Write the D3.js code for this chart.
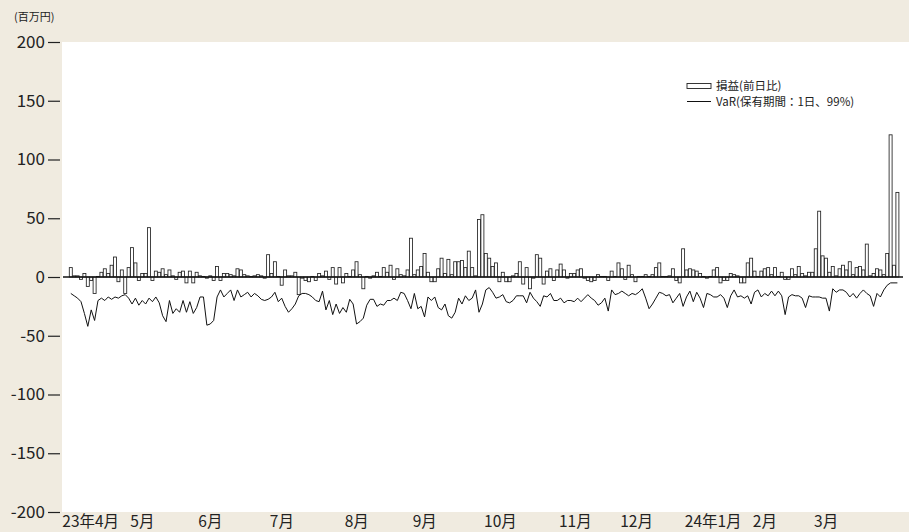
<!DOCTYPE html>
<html>
<head>
<meta charset="utf-8">
<title>損益とVaR</title>
<script src="https://cdn.jsdelivr.net/npm/d3@7"></script>
<style>
  html, body { margin: 0; padding: 0; background: #f0ebe0; }
  svg { display: block; font-family: "Noto Sans CJK JP", "Noto Sans", sans-serif; }
</style>
</head>
<body>
<div id="chart"></div>
<script>
// daily P&L (vs previous day), million yen — FY2023 business days
var pnl0 = [8,1,1,-2,3,-8,-3,-14,0.5,4, 7,3,10,17,-4,6,-14,8,25,12,
            -3,3,3,42,-3,5,4,7,2,6, 1,-2,4,5,-5,5,-5,4,1,0.5,
            -1,1,-3,9,-3,3,3,2,1,7, 6,2,1,0.5,1,2];
var pnl1 = [1,-1,19,3,13,0.5,-7,6,1,1, 4,-15,-1,-3,-4,0.5,-3,3,1,5,
            -2,8,-6,8,-5,3,0.5,6,13,2, -10,0.5,-1,1,4,0.5,8,4,10,-2,
            7,2,1,6,33,2,6,9,20,4, -4,-4,7,16,3,15,2,13,13];
var pnl2 = [14,8,22,8,1,49,53,20,16,9, 12,-4,4,-4,-4,1,3,13,-6,8,
            -10,-1,19,16,-6,5,7,-3,6,11, 6,-1,3,3,6,7,-1,-3,-4,-3,
            2,0.5,0.5,-3,5,0.5,12,7,-2,10, 2,-4,0.5,0.5,2,0.5,2,8];
var pnl3 = [12,0.5,0.5,1,7,-3,-5,24,6,7, 6,5,3,0.5,-1,0.5,6,8,-5,-3,
            -3,3,2,1,-5,-5,12,16,5,0.5, 5,7,8,2,8,0.5,4,-2,-2,7,
            2,9,3,1,4,4,24,56,18,16, 4,9,1,7,10,6,13,2,8,9,
            6,28,1,3,7,6,2,20,121,10, 72];

// VaR (holding period 1 day, 99%), shown as negative
var var0 = [-14,-16,-18,-21,-31,-42,-28,-37,-20,-18, -20,-17,-19,-17,-18,-16,-15,-18,-23,-18,
            -24,-20,-23,-18,-21,-17,-22,-33,-38,-20, -31,-27,-30,-20,-30,-21,-31,-26,-17,-17,
            -41,-40,-37,-17,-11,-17,-14,-11,-20,-11, -17,-15,-13,-17,-14,-16];
var var1 = [-19,-20,-19,-17,-13,-21,-18,-25,-30,-27, -23,-16,-14,-14,-15,-17,-20,-21,-12,-28,
            -20,-32,-23,-31,-26,-30,-19,-23,-40,-38, -35,-24,-19,-19,-25,-23,-24,-20,-20,-18,
            -20,-13,-14,-20,-27,-14,-27,-25,-34,-17, -20,-17,-26,-28,-23,-33,-35,-30,-18];
var var2 = [-23,-16,-20,-18,-11,-30,-23,-11,-9,-13, -18,-17,-15,-21,-22,-20,-16,-16,-16,-22,
            -13,-18,-21,-25,-16,-17,-14,-20,-20,-18, -22,-20,-20,-21,-18,-21,-18,-15,-18,-20,
            -24,-22,-18,-29,-11,-15,-14,-12,-14,-16, -14,-15,-13,-10,-18,-27,-23,-18];
var var3 = [-13,-14,-16,-15,-22,-18,-14,-25,-17,-12, -21,-13,-18,-26,-14,-15,-17,-17,-15,-18,
            -26,-16,-11,-17,-16,-18,-16,-23,-13,-11, -17,-14,-16,-12,-16,-12,-16,-32,-17,-15,
            -16,-16,-18,-26,-16,-17,-17,-17,-18,-18, -29,-10,-13,-11,-11,-13,-17,-14,-18,-14,
            -11,-14,-16,-25,-14,-17,-11,-7,-5,-5, -5];

var pnl = pnl0.concat(pnl1, pnl2, pnl3);
var varSeries = var0.concat(var1, var2, var3);

var yTicks = [200, 150, 100, 50, 0, -50, -100, -150, -200];
var monthLabels = ["23年4月", "5月", "6月", "7月", "8月", "9月", "10月", "11月", "12月", "24年1月", "2月", "3月"];
var monthIdx = [0, 20, 40, 61, 83, 103, 124, 146, 164, 183, 203, 221];

var width = 909, height = 532;

var svg = d3.select("#chart").append("svg")
    .attr("width", width)
    .attr("height", height);

svg.append("rect")
    .attr("width", width).attr("height", height)
    .attr("fill", "#f0ebe0");

var y = d3.scaleLinear().domain([-200, 200]).range([512, 42]);
var x = d3.scaleBand().domain(d3.range(pnl.length)).range([69.3, 898.9]).paddingInner(0.12);

// white plot area
svg.append("rect")
    .attr("x", 62).attr("y", y(200))
    .attr("width", width - 62).attr("height", y(-200) - y(200))
    .attr("fill", "#fff");

// y axis (plain hyphen for negatives, as in the source)
var yAxis = svg.append("g")
    .attr("transform", "translate(60,0)")
    .call(d3.axisLeft(y).tickValues(yTicks).tickSize(12).tickPadding(3)
        .tickFormat(function (d) { return String(d); }));
yAxis.select(".domain").remove();
yAxis.selectAll("line").attr("stroke", "#222").attr("stroke-width", 1.2);
yAxis.selectAll("text")
    .attr("fill", "#222")
    .style("font-size", "17px")
    .style("font-family", "'Noto Sans CJK JP', 'Noto Sans', sans-serif");

svg.append("text")
    .attr("x", 14).attr("y", 21)
    .attr("fill", "#222")
    .style("font-size", "11px")
    .text("(百万円)");

// bars
svg.append("g").selectAll("rect")
    .data(pnl)
    .enter().append("rect")
    .attr("x", function (d, i) { return x(i); })
    .attr("y", function (d) { return y(Math.max(0, d)); })
    .attr("width", x.bandwidth())
    .attr("height", function (d) { return Math.abs(y(d) - y(0)); })
    .attr("fill", "#fff")
    .attr("stroke", "#222")
    .attr("stroke-width", 0.85);

// zero line
svg.append("line")
    .attr("x1", 63).attr("x2", 903)
    .attr("y1", y(0)).attr("y2", y(0))
    .attr("stroke", "#111").attr("stroke-width", 1.3);

// VaR line
var line = d3.line()
    .x(function (d, i) { return x(i) + x.bandwidth() / 2; })
    .y(function (d) { return y(d); });

svg.append("path")
    .datum(varSeries)
    .attr("d", line)
    .attr("fill", "none")
    .attr("stroke", "#111")
    .attr("stroke-width", 1);

// month labels
svg.append("g").selectAll("text")
    .data(monthLabels)
    .enter().append("text")
    .attr("x", function (d, i) { return x(monthIdx[i]) - 7; })
    .attr("y", 527)
    .attr("fill", "#222")
    .style("font-size", "15.5px")
    .text(function (d) { return d; });

// legend
var lg = svg.append("g").attr("transform", "translate(687,86)");
lg.append("rect")
    .attr("x", 0).attr("y", -2.5).attr("width", 24).attr("height", 5)
    .attr("fill", "#fff").attr("stroke", "#222").attr("stroke-width", 0.9);
lg.append("text")
    .attr("x", 29).attr("y", 0).attr("dy", "0.35em")
    .attr("fill", "#222").style("font-size", "11.5px")
    .text("損益(前日比)");
lg.append("line")
    .attr("x1", 0).attr("x2", 24).attr("y1", 15.5).attr("y2", 15.5)
    .attr("stroke", "#111").attr("stroke-width", 1);
lg.append("text")
    .attr("x", 29).attr("y", 15.5).attr("dy", "0.35em")
    .attr("fill", "#222").style("font-size", "11.5px")
    .text("VaR(保有期間：1日、99%)");
</script>
</body>
</html>
